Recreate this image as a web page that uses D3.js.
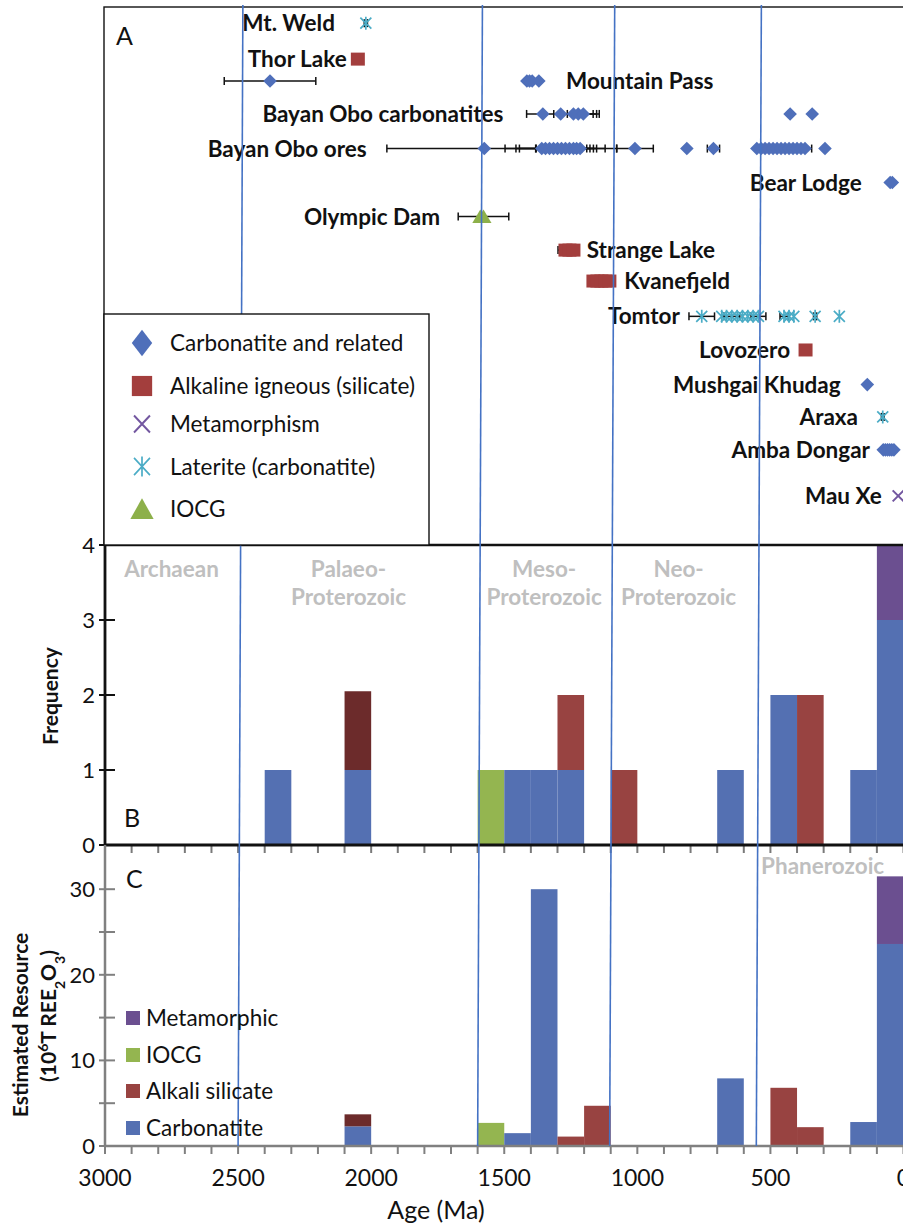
<!DOCTYPE html>
<html><head><meta charset="utf-8">
<script src="https://cdn.jsdelivr.net/npm/d3@7"></script>
<style>body{margin:0;background:#fff}svg{display:block;font-family:Lato,'Open Sans',sans-serif}</style>
</head><body><svg id="chart" width="903" height="1224"></svg>
<script>
// ================= DATA =================
// Panel A : deposits
const depositNames = ["Mt. Weld","Thor Lake","","Mountain Pass","Bayan Obo carbonatites","Bayan Obo ores","Bear Lodge","Olympic Dam","Strange Lake","Kvanefjeld","Tomtor","Lovozero","Mushgai Khudag","Araxa","Amba Dongar","Mau Xe"];
const depositTypes = ["laterite","alkaline","carbonatite","carbonatite","carbonatite","carbonatite","carbonatite","iocg","alkaline","alkaline","laterite","alkaline","carbonatite","laterite","carbonatite","metamorphism"];
const depositLevels = [15.52,14.45,13.8,13.8,12.82,11.79,10.78,9.77,8.77,7.85,6.8,5.8,4.77,3.81,2.83,1.46];
const depositAges = [
  [2020],
  [2050],
  [2380],
  [1415,1405,1395,1370],
  [1355,1288,1240,1222,1203,426,343],
  [1575,1359,1345,1330,1315,1300,1285,1270,1255,1240,1228,1215,1009,814,714,551,535,520,505,490,475,460,445,430,415,400,385,370,295],
  [50,42],
  [1590,1578],
  [1270,1255,1240],
  [1165,1150,1135,1120,1105],
  [758,683,665,645,625,605,585,565,545,449,430,412,332,241],
  [368],
  [136],
  [78],
  [76,68,60,52,44,36],
  [20]
];
const depositErrors = [
  [6],
  [0],
  [172],
  [0,0,0,0],
  [61,0,74,69,60,0,0],
  [366,138,111,113,0,82,95,92,90,87,107,138,69,0,23,0,0,0,0,0,0,0,0,0,0,0,0,25,0],
  [0,0],
  [0,95],
  [28,0,0],
  [0,0,0,0,0],
  [48,0,0,30,0,0,0,0,28,15,0,0,6,0],
  [0],
  [0],
  [5],
  [0,0,0,0,0,0],
  [0]
];
const legendATypes = ["carbonatite","alkaline","metamorphism","laterite","iocg"];
const legendALabels = ["Carbonatite and related","Alkaline igneous (silicate)","Metamorphism","Laterite (carbonatite)","IOCG"];

// Panel B : frequency per 100 Ma bin (bin = older edge, Ma)
const freqBins = [2400,2100,1600,1500,1400,1300,1100,700,500,400,200,100];
const freqCarbonatite = [1,1,0,1,1,1,0,1,2,0,1,3];
const freqAlkaliDark  = [0,1.05,0,0,0,0,0,0,0,0,0,0];
const freqAlkali      = [0,0,0,0,0,1,1,0,0,2,0,0];
const freqIOCG        = [0,0,1,0,0,0,0,0,0,0,0,0];
const freqMetamorphic = [0,0,0,0,0,0,0,0,0,0,0,1];

// Panel C : estimated resource (10^6 t REE2O3)
const resBins = [2100,1600,1500,1400,1300,1200,700,500,400,200,100];
const resCarbonatite = [2.3,0,1.5,30.0,0,0,7.9,0,0,2.8,23.6];
const resAlkaliDark  = [1.4,0,0,0,0,0,0,0,0,0,0];
const resAlkali      = [0,0,0,0,1.1,4.7,0,6.8,2.2,0,0];
const resIOCG        = [0,2.7,0,0,0,0,0,0,0,0,0];
const resMetamorphic = [0,0,0,0,0,0,0,0,0,0,7.9];
const legendCLabels = ["Metamorphic","IOCG","Alkali silicate","Carbonatite"];
const legendCKeys = ["metamorphic","iocg","alkali","carbonatite"];

// Ticks
const ageTicks = [3000,2500,2000,1500,1000,500,0];
const freqTicks = [0,1,2,3,4];
const resTicks = [0,10,20,30];
const resMinorTicks = [0,5,10,15,20,25,30];

// Era boundaries (as drawn: slightly slanted)
const eraBoundaryTop = [2482,1582,1085,534];
const eraBoundaryBottom = [2500,1600,1104,553];
const eraNames = [["Archaean"],["Palaeo-","Proterozoic"],["Meso-","Proterozoic"],["Neo-","Proterozoic"]];
const eraLabelAges = [2750,2085,1350,845];

// ================= LAYOUT =================
const labelAnchorAge = [2136,2092,null,1268,1503,2017,157,1741,1190,1049,840,426,236,171,126,82];
const labelSide = ["end","end",null,"start","end","end","end","end","start","start","end","end","end","end","end","end"];

const markerColor = {carbonatite:"#4F6FBA", alkaline:"#A33E3D", metamorphism:"#7357A0", laterite:"#4BACC6", iocg:"#8DB04A"};
const barColor = {carbonatite:"#5470B2", alkaliDark:"#6C2B2B", alkali:"#984341", iocg:"#94B550", metamorphic:"#6B4F90"};
const eraLineColor = "#4472C4";

const svg = d3.select("#chart");
const x = d3.scaleLinear().domain([3000,0]).range([105,903.5]);
const yA = d3.scaleLinear().domain([0,16]).range([545,7]);
const yB = d3.scaleLinear().domain([0,4]).range([845,545]);
const yC = d3.scaleLinear().domain([0,35]).range([1146,846.4]);

// ---- Panel A frame ----
svg.append("rect").attr("x",104).attr("y",7).attr("width",820).attr("height",538)
  .attr("fill","none").attr("stroke","#111").attr("stroke-width",1.4);

// ---- stacked bars helper ----
function stackBars(bins, seriesList, yScale){
  const g = svg.append("g");
  bins.forEach((b,i)=>{
    let base = 0;
    seriesList.forEach(s=>{
      const v = s.values[i];
      if(v>0){
        g.append("rect")
          .attr("x", x(b)).attr("width", x(b-100)-x(b))
          .attr("y", yScale(base+v)).attr("height", yScale(base)-yScale(base+v))
          .attr("fill", s.color);
        base += v;
      }
    });
  });
}
stackBars(freqBins,[
  {values:freqCarbonatite,color:barColor.carbonatite},
  {values:freqAlkaliDark,color:barColor.alkaliDark},
  {values:freqAlkali,color:barColor.alkali},
  {values:freqIOCG,color:barColor.iocg},
  {values:freqMetamorphic,color:barColor.metamorphic}], yB);
stackBars(resBins,[
  {values:resCarbonatite,color:barColor.carbonatite},
  {values:resAlkaliDark,color:barColor.alkaliDark},
  {values:resAlkali,color:barColor.alkali},
  {values:resIOCG,color:barColor.iocg},
  {values:resMetamorphic,color:barColor.metamorphic}], yC);

// ---- Panel B axes ----
const minorAges = d3.range(3000,-1,-100);
const gB = svg.append("g");
gB.selectAll("line.xt").data(minorAges).join("line")
  .attr("x1",d=>x(d)).attr("x2",d=>x(d)).attr("y1",845).attr("y2",853)
  .attr("stroke","#7a7a7a").attr("stroke-width",2);
gB.append("line").attr("x1",104).attr("x2",903).attr("y1",545).attr("y2",545).attr("stroke","#111").attr("stroke-width",2.5);
gB.append("line").attr("x1",104).attr("x2",903).attr("y1",845).attr("y2",845).attr("stroke","#111").attr("stroke-width",2.8);
gB.append("line").attr("x1",105).attr("x2",105).attr("y1",544).attr("y2",846).attr("stroke","#111").attr("stroke-width",2.8);
gB.selectAll("line.yt").data(freqTicks).join("line")
  .attr("x1",99).attr("x2",115).attr("y1",d=>yB(d)).attr("y2",d=>yB(d))
  .attr("stroke","#111").attr("stroke-width",2);
gB.selectAll("text").data(freqTicks).join("text")
  .attr("x",95).attr("y",d=>yB(d)).attr("dy","0.36em").attr("text-anchor","end")
  .attr("font-size",22).attr("fill","#111").text(d=>d);

// ---- Panel C axes ----
const gC = svg.append("g");
gC.append("line").attr("x1",105).attr("x2",903).attr("y1",1146).attr("y2",1146).attr("stroke","#808080").attr("stroke-width",2.5);
gC.append("line").attr("x1",105).attr("x2",105).attr("y1",845).attr("y2",1147).attr("stroke","#808080").attr("stroke-width",2.5);
gC.selectAll("line.xt").data(minorAges).join("line")
  .attr("x1",d=>x(d)).attr("x2",d=>x(d)).attr("y1",1146).attr("y2",1154)
  .attr("stroke","#808080").attr("stroke-width",2);
gC.selectAll("line.yt").data(resMinorTicks).join("line")
  .attr("x1",99).attr("x2",115).attr("y1",d=>yC(d)).attr("y2",d=>yC(d))
  .attr("stroke","#808080").attr("stroke-width",2);
gC.selectAll("text.yl").data(resTicks).join("text")
  .attr("x",95).attr("y",d=>yC(d)).attr("dy","0.36em").attr("text-anchor","end")
  .attr("font-size",22).attr("fill","#111").text(d=>d);
gC.selectAll("text.xl").data(ageTicks).join("text")
  .attr("x",d=>x(d)).attr("y",1186).attr("text-anchor","middle")
  .attr("font-size",23).attr("fill","#111").text(d=>d);
svg.append("text").attr("x",436).attr("y",1219).attr("text-anchor","middle")
  .attr("font-size",25).attr("fill","#111").text("Age (Ma)");

// ---- Panel A error bars & markers ----
const gA = svg.append("g");
const markerPath = {
  carbonatite: "M0,-6.8L6.8,0L0,6.8L-6.8,0Z",
  alkaline: "M-7,-6.5H7V6.5H-7Z",
  iocg: "M0,-7L8,6.5H-8Z",
  laterite: "M0,-6.5V6.5M-5.5,-5.5L5.5,5.5M-5.5,5.5L5.5,-5.5",
  metamorphism: "M-5.5,-5.5L5.5,5.5M-5.5,5.5L5.5,-5.5"
};
function drawMarker(g, type, px, py, scale){
  const p = g.append("path").attr("d", markerPath[type])
    .attr("transform",`translate(${px},${py}) scale(${scale[0]},${scale[1]})`);
  if(type==="laterite"||type==="metamorphism"){
    p.attr("fill","none").attr("stroke",markerColor[type]).attr("stroke-width",type==="laterite"?1.7/scale[0]:2/scale[0]);
  } else {
    p.attr("fill",markerColor[type]);
  }
}
depositAges.forEach((ages,r)=>{
  const py = yA(depositLevels[r]);
  ages.forEach((a,k)=>{
    const e = depositErrors[r][k];
    if(e>0){
      gA.append("line").attr("x1",x(a+e)).attr("x2",x(a-e)).attr("y1",py).attr("y2",py).attr("stroke","#111").attr("stroke-width",1.5);
      [a+e,a-e].forEach(c=>gA.append("line").attr("x1",x(c)).attr("x2",x(c)).attr("y1",py-4).attr("y2",py+4).attr("stroke","#111").attr("stroke-width",1.5));
    }
  });
});
depositAges.forEach((ages,r)=>{
  const py = yA(depositLevels[r]);
  ages.forEach(a=>drawMarker(gA, depositTypes[r], x(a), py, [1,1]));
});
depositNames.forEach((n,r)=>{
  if(!n) return;
  gA.append("text").attr("x",x(labelAnchorAge[r])).attr("y",yA(depositLevels[r])).attr("dy","0.36em")
    .attr("text-anchor",labelSide[r]).attr("font-weight","bold").attr("font-size",22.5).attr("fill","#111").text(n);
});

// ---- Era boundary lines ----
const gE = svg.append("g");
eraBoundaryTop.forEach((t,i)=>{
  gE.append("line").attr("x1",x(t)).attr("y1",5).attr("x2",x(eraBoundaryBottom[i])).attr("y2",1146)
    .attr("stroke",eraLineColor).attr("stroke-width",1.6);
});

// ---- Legend A ----
const gL = svg.append("g");
gL.append("rect").attr("x",104).attr("y",314).attr("width",325).attr("height",231)
  .attr("fill","#fff").attr("stroke","#111").attr("stroke-width",1.4);
const legAy = [343,386,424,466.5,509];
legendATypes.forEach((t,i)=>{
  drawMarker(gL, t, 142, legAy[i], t==="carbonatite"?[1.5,1.95]:[1.45,1.55]);
  gL.append("text").attr("x",170).attr("y",legAy[i]).attr("dy","0.36em").attr("font-size",22.5).attr("fill","#111").text(legendALabels[i]);
});

// ---- Era labels ----
const gray = "#BFBFBF";
eraNames.forEach((lines,i)=>{
  lines.forEach((s,j)=>{
    svg.append("text").attr("x",x(eraLabelAges[i])).attr("y",577+j*28).attr("text-anchor","middle")
      .attr("font-weight","bold").attr("font-size",22.5).attr("fill",gray).text(s);
  });
});
svg.append("text").attr("x",x(535)).attr("y",874).attr("font-weight","bold").attr("font-size",22.5).attr("fill",gray).text("Phanerozoic");

// ---- Panel letters ----
svg.append("text").attr("x",116).attr("y",45).attr("font-size",25).attr("fill","#111").text("A");
svg.append("text").attr("x",124).attr("y",827).attr("font-size",25).attr("fill","#111").text("B");
svg.append("text").attr("x",126).attr("y",888).attr("font-size",25).attr("fill","#111").text("C");

// ---- Y axis titles ----
svg.append("text").attr("transform","translate(58,696) rotate(-90)").attr("text-anchor","middle")
  .attr("font-weight","bold").attr("font-size",21).attr("fill","#111").text("Frequency");
svg.append("text").attr("transform","translate(28,1025) rotate(-90)").attr("text-anchor","middle")
  .attr("font-weight","bold").attr("font-size",21).attr("fill","#111").text("Estimated Resource");
const t2 = svg.append("text").attr("transform","translate(56,1016) rotate(-90)").attr("text-anchor","middle")
  .attr("font-weight","bold").attr("font-size",21).attr("fill","#111");
t2.append("tspan").text("(10");
t2.append("tspan").attr("baseline-shift","super").attr("font-size",14).text("6");
t2.append("tspan").text("T REE");
t2.append("tspan").attr("baseline-shift","sub").attr("font-size",14).text("2");
t2.append("tspan").text("O");
t2.append("tspan").attr("baseline-shift","sub").attr("font-size",14).text("3");
t2.append("tspan").text(")");

// ---- Legend C ----
const legCy = [1018,1055,1091,1128];
legendCKeys.forEach((k,i)=>{
  svg.append("rect").attr("x",126).attr("y",legCy[i]-7).attr("width",14).attr("height",14).attr("fill",barColor[k]);
  svg.append("text").attr("x",146).attr("y",legCy[i]).attr("dy","0.36em").attr("font-size",22.5).attr("fill","#111").text(legendCLabels[i]);
});
</script>
</body></html>
